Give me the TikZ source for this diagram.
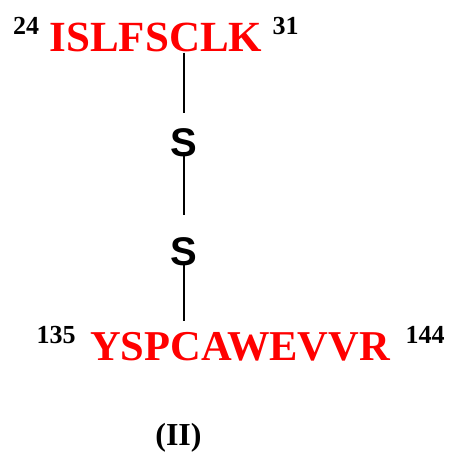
\documentclass[tikz,border=0pt]{standalone}
\usepackage{fontspec}
\setmainfont{Liberation Serif}
\newfontfamily\sfbold{Liberation Sans}
\begin{document}
\begin{tikzpicture}[x=1pt,y=-1pt,
  seq/.style={inner sep=0pt,anchor=base,text=red,font=\fontsize{43}{43}\selectfont\bfseries},
  num/.style={inner sep=0pt,anchor=base,font=\fontsize{26}{26}\selectfont\bfseries},
  sulf/.style={inner sep=0pt,anchor=base,font=\fontsize{40}{40}\selectfont\sfbold\bfseries},
  bond/.style={line width=2pt}]
\useasboundingbox (0,0) rectangle (450,454);
\node[seq] (top) at (156,52) {ISLFSCLK};
\node[num] (n24) at (26,35) {24};
\node[num] (n31) at (285.5,35) {31};
\node[sulf] (s1) at (184,157) {S};
\node[sulf] (s2) at (184,265) {S};
\node[seq,font=\fontsize{42.5}{42.5}\selectfont\bfseries] (bot) at (240,360) {YSPCAWEVVR};
\node[num] (n135) at (56,343) {135};
\node[num] (n144) at (425,343) {144};
\node[inner sep=0pt,anchor=base,font=\fontsize{32}{32}\selectfont\bfseries] (lab) at (178.5,445) {(II)};
\draw[bond,shorten >=16pt] (top.south -| s1.center) -- (s1.north);
\draw[bond,shorten <=-6pt,shorten >=22pt] (s1.south) -- (s2.north);
\draw[bond,shorten <=-4pt,shorten >=11pt] (s2.south) -- (bot.north -| s2.center);
\end{tikzpicture}
\end{document}
